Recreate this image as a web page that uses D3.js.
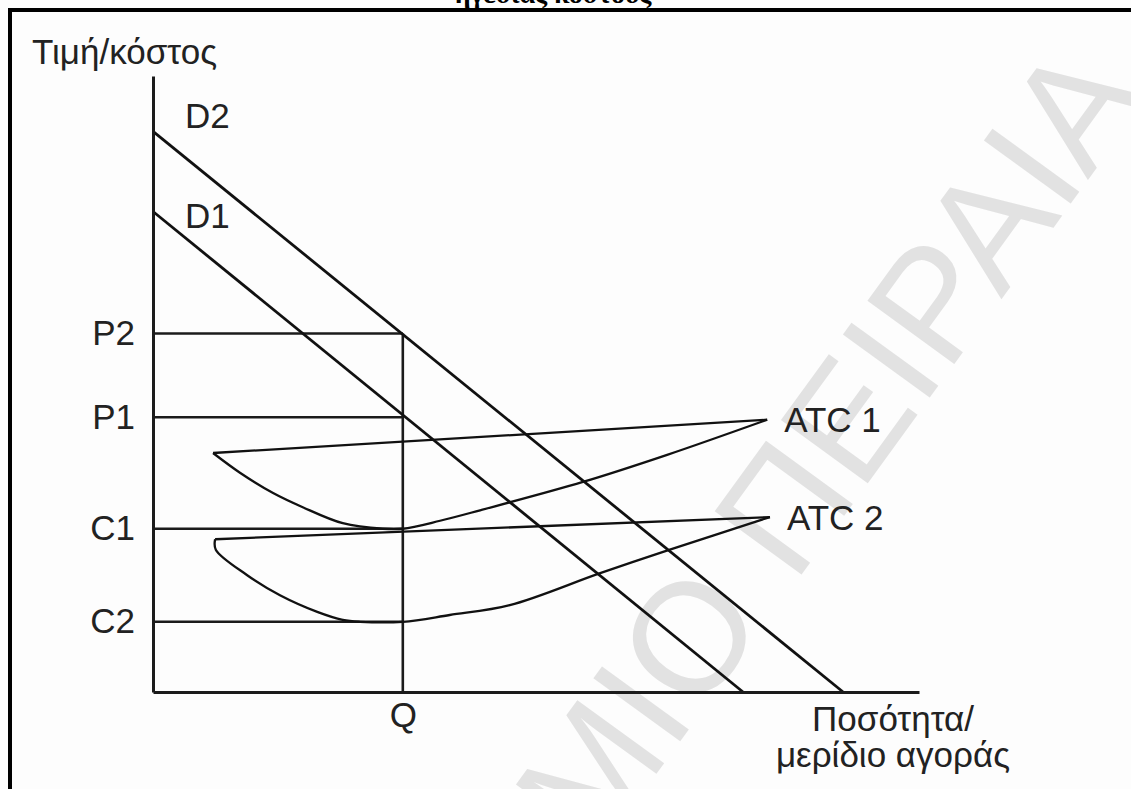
<!DOCTYPE html>
<html>
<head>
<meta charset="utf-8">
<script src="https://cdn.jsdelivr.net/npm/d3@7"></script>
<style>
  body { margin: 0; background: #fff; }
  svg { display: block; }
</style>
</head>
<body>
<div id="chart"></div>
<script>
// values (quantity 0..111, price/cost 0..100)
const demandNames = ["D1", "D2"];
const demandD1 = [[0, 78], [85.5, 0]];
const demandD2 = [[0, 91], [100, 0]];

const priceLabels = ["P2", "P1", "C1", "C2"];
const priceValues = [58.2, 44.6, 26.5, 11.4];

const quantityLabel = "Q";
const quantityValue = 36.2;

const atcNames = ["ATC 1", "ATC 2"];
const atc1 = [[8.7, 38.8], [12.6, 35.6], [17.4, 32.3], [21.7, 30.0], [27.5, 27.4], [33.3, 26.5],
    [36.2, 26.5], [41.6, 27.8], [47.4, 29.5], [62.3, 34.1], [74.5, 38.5], [89.0, 44.2]];
const atc2 = [[9.0, 24.8], [9.1, 23.1], [13.6, 19.0], [18.4, 15.7], [23.8, 13.0], [27.5, 11.7], [30.0, 11.4],
    [36.2, 11.4], [43.0, 12.5], [51.7, 14.1], [64.8, 19.3], [74.9, 23.1], [89.4, 28.4]];

const yTitle = "Τιμή/κόστος";
const xTitle = ["Ποσότητα/", "μερίδιο αγοράς"];
const topCaption = "ηγεσίας κόστους";
const watermark = "ΠΑΝΕΠΙΣΤΗΜΙΟ ΠΕΙΡΑΙΑ";

const W = 1131, H = 789;
const ink = "#1b1b1b";
const font = "'Liberation Sans', Arial, sans-serif";
const fs = 35;

const svg = d3.select("#chart").append("svg")
    .attr("width", W)
    .attr("height", H);

svg.append("rect").attr("width", W).attr("height", H).attr("fill", "#fdfdfd");

// faint watermark behind everything
svg.append("text")
    .attr("transform", "translate(1149,96) rotate(-54)")
    .attr("text-anchor", "end")
    .attr("font-family", font)
    .attr("font-size", 156)
    .attr("fill", "#e2e2e2")
    .text(watermark);

// cut caption at the very top + frame
svg.append("text")
    .attr("x", 553).attr("y", 3)
    .attr("text-anchor", "middle")
    .attr("font-family", "'Liberation Serif', 'Times New Roman', serif")
    .attr("font-weight", "bold")
    .attr("font-size", 28)
    .attr("fill", "#000")
    .text(topCaption);

svg.append("line").attr("x1", 8).attr("x2", W).attr("y1", 10).attr("y2", 10)
    .attr("stroke", "#000").attr("stroke-width", 4);
svg.append("line").attr("x1", 10).attr("x2", 10).attr("y1", 8).attr("y2", H)
    .attr("stroke", "#000").attr("stroke-width", 4);

const x = d3.scaleLinear().domain([0, 111]).range([153, 919]);
const y = d3.scaleLinear().domain([0, 100]).range([692, 76]);

const line = d3.line().x(d => x(d[0])).y(d => y(d[1]));
const curve = d3.line().x(d => x(d[0])).y(d => y(d[1])).curve(d3.curveCatmullRom.alpha(0.5));

const g = svg.append("g");

// guide lines from the axis to Q
g.selectAll(".guide")
    .data(priceValues)
    .enter()
    .append("line")
    .attr("class", "guide")
    .attr("x1", x(0)).attr("x2", x(quantityValue))
    .attr("y1", d => y(d)).attr("y2", d => y(d))
    .attr("stroke", ink).attr("stroke-width", 2.6);

g.append("line")
    .attr("x1", x(quantityValue)).attr("x2", x(quantityValue))
    .attr("y1", y(0)).attr("y2", y(d3.max(priceValues)))
    .attr("stroke", ink).attr("stroke-width", 2.6);

// ATC curves: lower U branch and the straight upper edge back to the start
[atc1, atc2].forEach(function (pts) {
    g.append("path")
        .attr("d", curve(pts))
        .attr("fill", "none")
        .attr("stroke", "#111").attr("stroke-width", 2.3);
    g.append("path")
        .attr("d", line([pts[0], pts[pts.length - 1]]))
        .attr("fill", "none")
        .attr("stroke", "#111").attr("stroke-width", 2.3);
});

// demand lines
[demandD1, demandD2].forEach(function (pts) {
    g.append("path")
        .attr("d", line(pts))
        .attr("fill", "none")
        .attr("stroke", "#111").attr("stroke-width", 2.8);
});

// axes: only the domain lines plus the letter labels
const yAxis = svg.append("g")
    .attr("transform", `translate(${x(0)},0)`)
    .call(d3.axisLeft(y).tickValues(priceValues)
        .tickFormat((d, i) => priceLabels[i])
        .tickSize(0).tickSizeOuter(0).tickPadding(18));

const xAxis = svg.append("g")
    .attr("transform", `translate(0,${y(0)})`)
    .call(d3.axisBottom(x).tickValues([quantityValue])
        .tickFormat(() => quantityLabel)
        .tickSize(0).tickSizeOuter(0).tickPadding(10));

[yAxis, xAxis].forEach(function (ax) {
    ax.select(".domain").attr("stroke", ink).attr("stroke-width", 3);
    ax.selectAll("text")
        .attr("font-family", font)
        .attr("font-size", fs)
        .attr("fill", "#222");
});

// labels on the curves
svg.append("text")
    .attr("x", x(0) + 32).attr("y", y(demandD2[0][1]) - 3)
    .attr("font-family", font).attr("font-size", fs).attr("fill", "#222")
    .text(demandNames[1]);
svg.append("text")
    .attr("x", x(0) + 32).attr("y", y(demandD1[0][1]) + 16)
    .attr("font-family", font).attr("font-size", fs).attr("fill", "#222")
    .text(demandNames[0]);

[atc1, atc2].forEach(function (pts, i) {
    const tip = pts[pts.length - 1];
    svg.append("text")
        .attr("x", x(tip[0]) + 17).attr("y", y(tip[1]))
        .attr("dy", "0.36em")
        .attr("font-family", font).attr("font-size", fs).attr("fill", "#222")
        .text(atcNames[i]);
});

svg.append("text")
    .attr("x", 32).attr("y", 64)
    .attr("font-family", font).attr("font-size", fs).attr("fill", "#222")
    .text(yTitle);

svg.append("g")
    .selectAll("text")
    .data(xTitle)
    .enter()
    .append("text")
    .attr("x", 893)
    .attr("y", (d, i) => 731 + i * 36)
    .attr("text-anchor", "middle")
    .attr("font-family", font).attr("font-size", fs).attr("fill", "#222")
    .text(d => d);
</script>
</body>
</html>
